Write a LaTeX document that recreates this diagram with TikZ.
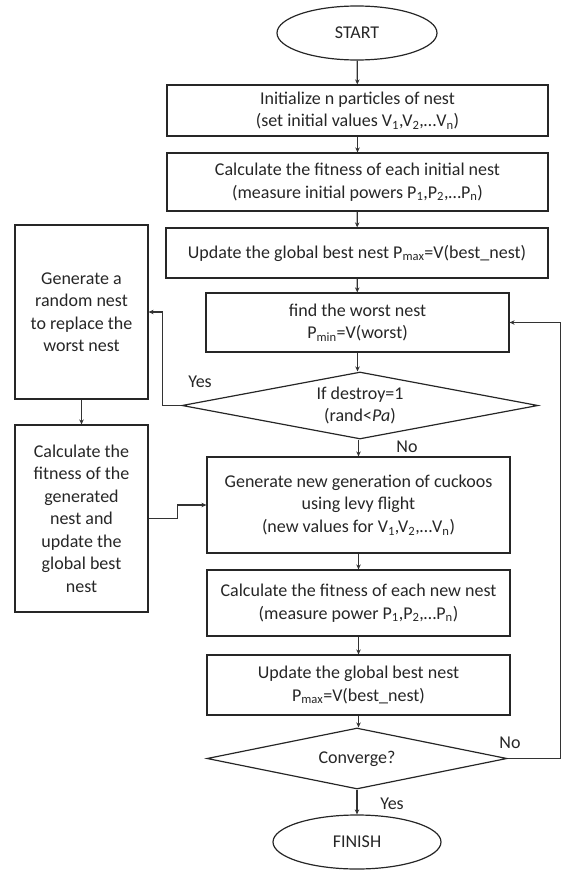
\documentclass[tikz,border=0pt]{standalone}
\usepackage{fontspec}
\setmainfont{Carlito}
\usetikzlibrary{shapes.geometric,arrows.meta}
\tikzset{
	flowline/.style={line width=1.2pt, draw=black!80, -{Stealth[length=5pt,width=4.5pt]}},
	procbox/.style={draw=black!85, line width=1.2pt, rectangle, align=center, inner sep=0pt, text=black!85},
	decision/.style={draw=black!85, line width=1.2pt, diamond, aspect=5, inner sep=0pt, align=center, text=black!85},
	terminal/.style={draw=black!85, line width=1.2pt, ellipse, inner sep=0pt, text=black!85},
	tag/.style={inner sep=0pt, text=black!85}
}

\begin{document}
\begin{tikzpicture}[x=1pt, y=-1pt, font=\fontsize{18}{22.5}\selectfont]
			%%%%% START %%%%%
			
			\useasboundingbox (0, 0) rectangle (561, 870);
			
			\node[terminal, minimum width=160pt, minimum height=54pt] (start) at (357, 33) {START};
			\node[procbox, minimum width=381pt, minimum height=51pt] (init) at (357.5, 110.5) {Initialize n particles of nest\\(set initial values V\textsubscript{1},V\textsubscript{2},…V\textsubscript{n})};
			\node[procbox, minimum width=381pt, minimum height=58pt] (calc) at (357.5, 182) {Calculate the fitness of each initial nest\\(measure initial powers P\textsubscript{1},P\textsubscript{2},…P\textsubscript{n})};
			\node[procbox, minimum width=382pt, minimum height=50pt] (upd) at (357, 253) {Update the global best nest P\textsubscript{max}=V(best\_nest)};
			\node[procbox, minimum width=303pt, minimum height=59pt] (worst) at (357.5, 322.5) {find the worst nest\\P\textsubscript{min}=V(worst)};
			\node[decision, minimum width=356pt, minimum height=67pt] (destroy) at (360, 405.5) {If destroy=1\\(rand<\textit{Pa})};
			\node[procbox, minimum width=303pt, minimum height=96pt] (gen) at (358.5, 505) {Generate new generation of cuckoos\\using levy flight\\(new values for V\textsubscript{1},V\textsubscript{2},…V\textsubscript{n})};
			\node[procbox, minimum width=303pt, minimum height=66pt] (calcnew) at (358.5, 603) {Calculate the fitness of each new nest\\(measure power P\textsubscript{1},P\textsubscript{2},…P\textsubscript{n})};
			\node[procbox, minimum width=303pt, minimum height=60pt] (upd2) at (358.5, 685) {Update the global best nest\\P\textsubscript{max}=V(best\_nest)};
			\node[decision, minimum width=300pt, minimum height=61pt] (conv) at (357, 758.5) {Converge?};
			\node[terminal, minimum width=168pt, minimum height=54pt] (finish) at (357, 842) {FINISH};
			
			\node[procbox, minimum width=133pt, minimum height=174pt] (rnd) at (81.5, 312) {Generate a\\random nest\\to replace the\\worst nest};
			\node[procbox, minimum width=133pt, minimum height=187pt] (fit) at (81.5, 518.5) {Calculate the\\fitness of the\\generated\\nest and\\update the\\global best\\nest};
			
			\draw[flowline] (start) -- (init);
			\draw[flowline] (init) -- (calc);
			\draw[flowline] (calc) -- (upd);
			\draw[flowline] (upd) -- (worst);
			\draw[flowline] (worst.south) -- (worst.south |- destroy.north);
			\draw[flowline] (destroy.south -| gen.north) -- (gen.north);
			\draw[flowline] (gen) -- (calcnew);
			\draw[flowline] (calcnew) -- (upd2);
			\draw[flowline] (upd2.south) -- (upd2.south |- conv.north);
			\draw[flowline] (conv.south) -- (conv.south |- finish.north);
			
			\draw[flowline] (destroy.west) -- ++(-19, 0) |- (rnd.east);
			\draw[flowline] (rnd) -- (fit);
			\draw[flowline] (fit.east) -- ++(29, 0) |- (gen.west);
			\draw[flowline] (conv.east) -- ++(53, 0) |- (worst.east);
			
			\node[tag] (yes1) at (200, 382) {Yes};
			\node[tag] (no1) at (407, 447) {No};
			\node[tag] (no2) at (510, 743) {No};
			\node[tag] (yes2) at (392, 804) {Yes};
			
			%%%%% END %%%%%
\end{tikzpicture}
\end{document}
